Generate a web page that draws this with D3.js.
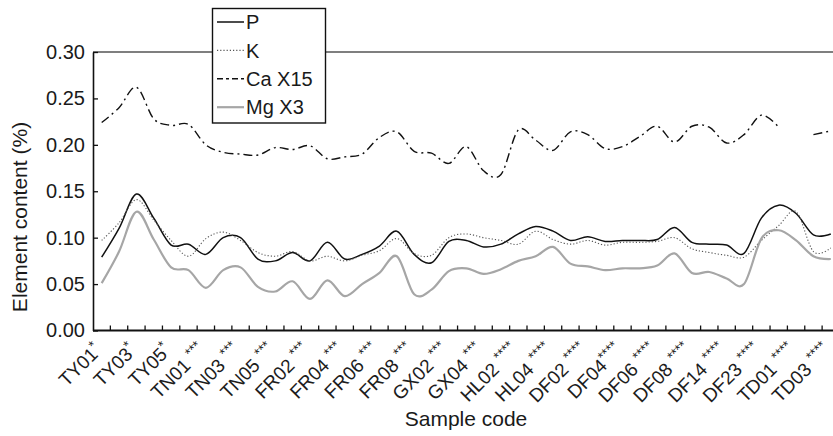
<!DOCTYPE html>
<html><head><meta charset="utf-8">
<script src="https://cdn.jsdelivr.net/npm/d3@7"></script>
<style>
html,body{margin:0;padding:0;background:#fff;}
svg text{font-family:"Liberation Sans",Arial,Helvetica,sans-serif;fill:#1a1a1a;}
</style></head>
<body>
<svg id="chart" width="833" height="436"></svg>
<script>
const categories = ["TY01*","TY02*","TY03*","TY04*","TY05*","TY06*",
  "TN01 ***","TN02 ***","TN03 ***","TN04 ***","TN05 ***",
  "FR01 ***","FR02 ***","FR03 ***","FR04 ***","FR05 ***","FR06 ***","FR07 ***","FR08 ***",
  "GX01 ***","GX02 ***","GX03 ***","GX04 ***",
  "HL01 ****","HL02 ****","HL03 ****","HL04 ****",
  "DF01 ****","DF02 ****","DF03 ****","DF04****","DF05 ****","DF06 ****","DF07 ****","DF08 ****",
  "DF10 ****","DF14 ****","DF20 ****","DF23 ****","DF25 ****",
  "TD01 ****","TD02 ****","TD03 ****"];

const P = [0.079,0.110,0.147,0.121,0.092,0.093,0.082,0.100,0.100,0.077,0.075,0.084,0.075,0.095,0.077,0.082,0.091,0.107,0.082,
  0.073,0.096,0.097,0.090,0.093,0.104,0.112,0.107,0.097,0.101,0.096,0.097,0.097,0.098,0.111,0.095,0.093,0.092,0.083,0.121,0.135,0.126,0.103,0.104];
const K = [0.097,0.116,0.141,0.119,0.097,0.080,0.099,0.106,0.097,0.084,0.080,0.085,0.075,0.080,0.075,0.081,0.086,0.099,0.083,
  0.081,0.100,0.104,0.100,0.097,0.093,0.107,0.098,0.093,0.097,0.092,0.095,0.095,0.096,0.100,0.088,0.084,0.081,0.079,0.097,0.113,0.128,0.085,0.089];
const Ca15 = [0.224,0.240,0.262,0.228,0.221,0.222,0.200,0.192,0.190,0.189,0.197,0.195,0.199,0.185,0.187,0.190,0.208,0.214,0.193,
  0.191,0.180,0.198,0.172,0.168,0.216,0.205,0.194,0.214,0.211,0.196,0.198,0.209,0.220,0.203,0.220,0.219,0.202,0.211,0.232,0.219,null,0.211,0.215];
const Mg3 = [0.051,0.085,0.128,0.098,0.068,0.065,0.046,0.065,0.068,0.047,0.042,0.053,0.034,0.054,0.037,0.050,0.062,0.080,0.039,
  0.044,0.064,0.067,0.061,0.066,0.075,0.080,0.090,0.072,0.069,0.065,0.067,0.067,0.070,0.083,0.062,0.063,0.056,0.050,0.099,0.108,0.097,0.080,0.077];

const yTicks = [0,0.05,0.10,0.15,0.20,0.25,0.30];
const legendLabels = ["P","K","Ca X15","Mg X3"];

const svg = d3.select("#chart");
const mLeft = 93, mTop = 52, mBottom = 330.5, step = 17.36;
const x = d3.scaleBand().domain(categories).range([mLeft, mLeft + step*categories.length]).padding(0);
const y = d3.scaleLinear().domain([0,0.30]).range([mBottom, mTop]);
const cx = d => x(d) + x.bandwidth()/2;

// top border
svg.append("line").attr("x1",mLeft).attr("x2",833).attr("y1",y(0.30)).attr("y2",y(0.30))
  .attr("stroke","#555").attr("stroke-width",1.6);

// series
const series = [
  {vals:P,   stroke:"#111", width:1.5, dash:null},
  {vals:K,   stroke:"#555", width:1.1, dash:"1.2,2"},
  {vals:Ca15,stroke:"#111", width:1.4, dash:"9,4,2,4"},
  {vals:Mg3, stroke:"#a6a6a6", width:2.2, dash:null}
];
const line = d3.line()
  .defined(d => d.v != null)
  .x(d => cx(d.c)).y(d => y(d.v))
  .curve(d3.curveCardinal.tension(0));
series.forEach(s => {
  svg.append("path")
    .datum(categories.map((c,i)=>({c, v:s.vals[i]})))
    .attr("d", line).attr("fill","none")
    .attr("stroke", s.stroke).attr("stroke-width", s.width)
    .attr("stroke-dasharray", s.dash);
});

// y axis
const yAxis = d3.axisLeft(y).tickValues(yTicks).tickFormat(d3.format(".2f"))
  .tickSizeInner(-5).tickSizeOuter(0).tickPadding(8);
const gy = svg.append("g").attr("transform",`translate(${mLeft},0)`).call(yAxis);
gy.select(".domain").attr("stroke","#111").attr("stroke-width",1.6);
gy.selectAll(".tick line").attr("stroke","#111").attr("stroke-width",1.3);
gy.selectAll(".tick text").attr("font-size",20).attr("font-family","Liberation Sans, Arial, sans-serif").attr("fill","#1a1a1a");

// x axis line
svg.append("line").attr("x1",mLeft).attr("x2",833).attr("y1",mBottom).attr("y2",mBottom)
  .attr("stroke","#111").attr("stroke-width",2.2);
// x ticks at band boundaries (inward)
svg.append("g").selectAll("line").data(categories.slice(1)).join("line")
  .attr("x1", d=>x(d)).attr("x2", d=>x(d))
  .attr("y1", mBottom).attr("y2", mBottom-5)
  .attr("stroke","#111").attr("stroke-width",1.3);

// x labels (every other)
const labG = svg.append("g").attr("opacity",0.99);
const labs = labG.selectAll("text")
  .data(categories.filter((c,i)=>i%2===0)).join("text")
  .attr("transform", d=>`translate(${cx(d)-9},${mBottom+11}) rotate(-45)`)
  .attr("text-anchor","end").attr("dy","0.75em").attr("font-size",19);
labs.each(function(d){
  const t = d3.select(this);
  const k = d.indexOf("*");
  t.append("tspan").attr("fill","#1a1a1a").text(d.slice(0,k));
  t.append("tspan").attr("fill","#1a1a1a").attr("font-size",14).attr("dy","-0.5em").text(d.slice(k));
});

// axis titles
svg.append("text").attr("x",466).attr("y",426).attr("text-anchor","middle")
  .attr("font-size",21).text("Sample code");
svg.append("text").attr("transform","translate(27,217) rotate(-90)")
  .attr("text-anchor","middle").attr("font-size",21).text("Element content (%)");

// legend
const lg = svg.append("g");
lg.append("rect").attr("x",212.5).attr("y",8.5).attr("width",113).attr("height",114.5)
  .attr("fill","#fff").attr("stroke","#111").attr("stroke-width",1.4);
legendLabels.forEach((lab,i)=>{
  const yy = 22 + i*28.4;
  const s = series[i];
  lg.append("line").attr("x1",217).attr("x2",244).attr("y1",yy).attr("y2",yy)
    .attr("stroke",s.stroke).attr("stroke-width",s.width)
    .attr("stroke-dasharray", i===2 ? "6,3,3,3" : s.dash);
  lg.append("text").attr("x",246).attr("y",yy).attr("dy","0.36em")
    .attr("font-size",20).text(lab);
});
</script>
</body></html>
